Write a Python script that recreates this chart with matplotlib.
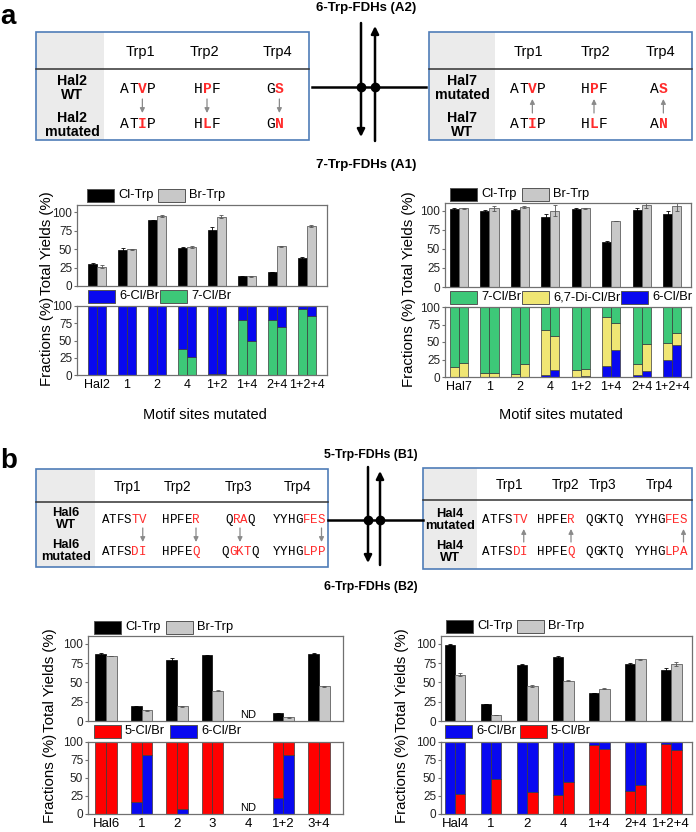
import numpy as np
import matplotlib
matplotlib.use('Agg')
import matplotlib.pyplot as plt
from matplotlib.patches import Rectangle

plt.rcParams['font.family'] = ['Liberation Sans', 'DejaVu Sans']

W, H = 696, 832

# ---- data: panel a, Hal2 (6-Trp) ----
a_left_groups = ['Hal2', '1', '2', '4', '1+2', '1+4', '2+4', '1+2+4']
hal2_cl = [30, 49, 89, 52, 76, 13, 19, 38]
hal2_cl_err = [1, 3, 1, 1, 4, 0.5, 0.5, 1]
hal2_br = [26, 50, 95, 53, 94, 13, 54, 81]
hal2_br_err = [2, 0.5, 1, 1.5, 2, 0.5, 0.5, 1.5]
hal2_7_cl = [0, 0, 0, 38, 1, 79, 80, 95]   # 7-Cl/Br fraction, rest 6-Cl/Br
hal2_7_br = [0, 0, 0, 26, 1, 50, 70, 86]

# ---- data: panel a, Hal7 (7-Trp) ----
a_right_groups = ['Hal7', '1', '2', '4', '1+2', '1+4', '2+4', '1+2+4']
hal7_cl = [102, 99, 101, 92, 102, 59, 101, 95]
hal7_cl_err = [1, 2, 1, 3, 1, 1.5, 3, 5]
hal7_br = [103, 103, 105, 100, 103, 86, 107, 106]
hal7_br_err = [1, 3, 1, 7, 1, 0, 3, 6]
hal7_6_cl = [0, 0, 0, 3, 0, 16, 3, 24]
hal7_di_cl = [15, 6, 5, 64, 10, 70, 16, 25]
hal7_6_br = [0, 0, 0, 10, 1, 39, 9, 46]
hal7_di_br = [20, 6, 18, 48, 11, 38, 38, 17]

# ---- data: panel b, Hal6 (5-Trp) ----
b_left_groups = ['Hal6', '1', '2', '3', '4', '1+2', '3+4']
hal6_cl = [87, 19, 79, 85, np.nan, 10, 87]
hal6_cl_err = [1, 0.5, 2, 0.5, 0, 0.5, 0.5]
hal6_br = [84, 14, 19, 39, np.nan, 5, 45]
hal6_br_err = [0.5, 0.5, 0.5, 0.5, 0, 0.5, 0.5]
hal6_6_cl = [0, 16, 0, 0, np.nan, 22, 0]   # 6-Cl/Br fraction, rest 5-Cl/Br
hal6_6_br = [0, 82, 7, 0, np.nan, 82, 0]

# ---- data: panel b, Hal4 (6-Trp) ----
b_right_groups = ['Hal4', '1', '2', '4', '1+4', '2+4', '1+2+4']
hal4_cl = [99, 22, 73, 83, 36, 74, 66]
hal4_cl_err = [0.5, 0.3, 1, 1, 0.3, 1, 2.5]
hal4_br = [60, 8, 45, 52, 42, 80, 74]
hal4_br_err = [1.5, 0.3, 1, 0.5, 1, 0.5, 3]
hal4_5_cl = [0, 0, 0, 27, 96, 32, 97]    # 5-Cl/Br fraction, rest 6-Cl/Br
hal4_5_br = [28, 49, 30, 45, 90, 40, 89]

BLACK = '#000000'
GRAY = '#C8C8C8'
BLUE = '#0808F0'
GREEN = '#3DC878'
YELLOW = '#F0E674'
RED = '#FF0000'
SEQRED = '#FF2A2A'
EDGE = '#3A3A3A'

fig = plt.figure(figsize=(W / 100, H / 100), dpi=100)
ov = fig.add_axes([0, 0, 1, 1])
ov.set_xlim(0, W)
ov.set_ylim(H, 0)
ov.axis('off')


def rect(l, t, r, b):
    return [l / W, 1 - b / H, (r - l) / W, (b - t) / H]


def seq(xc, y, s, reds, fs, bold_red):
    cw = 0.6 * fs * 100 / 72
    x0 = xc - len(s) * cw / 2
    for i, ch in enumerate(s):
        red = i in reds
        ov.text(x0 + (i + 0.5) * cw, y, ch, fontsize=fs, family='Liberation Mono',
                color=SEQRED if red else 'black',
                weight='bold' if (red and bold_red) else 'normal',
                ha='center', va='center')
    return [x0 + (i + 0.5) * cw for i in range(len(s))]


def small_arrow(x, y_from, y_to):
    ov.annotate('', xy=(x, y_to), xytext=(x, y_from),
                arrowprops=dict(arrowstyle='-|>', color='#8A8A8A', lw=0.9,
                                mutation_scale=7, shrinkA=0, shrinkB=0))


def table_box(x0, x1, y0, ydiv, y1, xgray):
    ov.add_patch(Rectangle((x0, y0), xgray - x0, y1 - y0, fc='#EBEBEB', ec='none'))
    ov.plot([x0, x1], [ydiv, ydiv], color='#333333', lw=1.1)
    ov.add_patch(Rectangle((x0, y0), x1 - x0, y1 - y0, fc='none', ec='#4F7DB8', lw=1.2))


def big_arrows(xa, xb, yh, xl, xr, a_top, a_tip, b_bot, b_tip):
    ov.plot([xl, xr], [yh, yh], color='black', lw=1.8)
    ov.annotate('', xy=(xa, a_tip), xytext=(xa, a_top),
                arrowprops=dict(arrowstyle='-|>', color='black', lw=1.8,
                                mutation_scale=11, shrinkA=0, shrinkB=0))
    ov.annotate('', xy=(xb, b_tip), xytext=(xb, b_bot),
                arrowprops=dict(arrowstyle='-|>', color='black', lw=1.8,
                                mutation_scale=11, shrinkA=0, shrinkB=0))
    ov.plot([xa, xb], [yh, yh], 'o', color='black', ms=6)


def legend_row(items, y):
    for x, c, lab in items:
        ov.add_patch(Rectangle((x, y - 6.5), 27, 13, fc=c, ec='#555555', lw=0.7))
        ov.text(x + 31, y, lab, fontsize=9.3, ha='left', va='center')


def style(ax, xlim, ymax):
    ax.set_xlim(xlim)
    ax.set_ylim(0, ymax)
    ax.set_yticks([0, 25, 50, 75, 100])
    for sp in ax.spines.values():
        sp.set_color('#707070')
        sp.set_linewidth(0.9)
    ax.tick_params(axis='y', length=2.5, width=0.8, color='#707070',
                   labelsize=8.5, pad=1, labelcolor='#222222')


def yields_ax(r, xlim, cl, cle, br, bre, w=0.3):
    ax = fig.add_axes(r)
    cl = np.array(cl, float)
    br = np.array(br, float)
    x = np.arange(len(cl))
    m = ~np.isnan(cl)
    ax.bar(x[m] - w / 2, cl[m], w, color=BLACK, edgecolor=BLACK, lw=0.5,
           yerr=np.array(cle)[m],
           error_kw=dict(ecolor='black', capsize=1.6, elinewidth=0.6, capthick=0.6))
    ax.bar(x[m] + w / 2, br[m], w, color=GRAY, edgecolor='#606060', lw=0.6,
           yerr=np.array(bre)[m],
           error_kw=dict(ecolor='#555555', capsize=1.6, elinewidth=0.6, capthick=0.6))
    style(ax, xlim, 110)
    ax.set_xticks([])
    return ax


def frac_ax(r, xlim, groups, stacks, w=0.3, xfs=9.5):
    # stacks: list of (values_cl, values_br, color) from bottom to top
    ax = fig.add_axes(r)
    x = np.arange(len(groups))
    bot_cl = np.zeros(len(groups))
    bot_br = np.zeros(len(groups))
    for vcl, vbr, c in stacks:
        vcl = np.array(vcl, float)
        vbr = np.array(vbr, float)
        m = ~np.isnan(vcl)
        ax.bar(x[m] - w / 2, vcl[m], w, bottom=bot_cl[m], color=c, edgecolor=EDGE, lw=0.5)
        ax.bar(x[m] + w / 2, vbr[m], w, bottom=bot_br[m], color=c, edgecolor=EDGE, lw=0.5)
        bot_cl = bot_cl + np.nan_to_num(vcl)
        bot_br = bot_br + np.nan_to_num(vbr)
    style(ax, xlim, 100)
    ax.set_xticks(x)
    ax.set_xticklabels(groups, fontsize=xfs)
    ax.tick_params(axis='x', length=0, pad=3)
    return ax


def ylabels(x, yc1, yc2):
    ov.text(x, yc1, 'Total Yields (%)', rotation=90, fontsize=10.8, ha='center', va='center')
    ov.text(x, yc2, 'Fractions (%)', rotation=90, fontsize=10.8, ha='center', va='center')


# ================= panel a =================
ov.text(0, 17, 'a', fontsize=20, weight='bold', ha='left', va='center')
ov.text(366, 8, '6-Trp-FDHs (A2)', fontsize=9.5, weight='bold', ha='center', va='center')
ov.text(366, 165, '7-Trp-FDHs (A1)', fontsize=9.5, weight='bold', ha='center', va='center')

table_box(36, 309, 32, 69, 140, 104)
for xh, lab in zip([140, 204, 277], ['Trp1', 'Trp2', 'Trp4']):
    ov.text(xh, 52, lab, fontsize=10.5, ha='center', va='center')
ov.text(72, 88, 'Hal2\nWT', fontsize=10.2, weight='bold', ha='center', va='center', linespacing=0.95)
ov.text(72, 125, 'Hal2\nmutated', fontsize=10.2, weight='bold', ha='center', va='center', linespacing=0.95)
for xc, s1, s2, r in [(138, 'ATVP', 'ATIP', 2), (207, 'HPF', 'HLF', 1), (275, 'GS', 'GN', 1)]:
    p = seq(xc, 89, s1, {r}, 10.5, True)
    seq(xc, 124, s2, {r}, 10.5, True)
    small_arrow(p[r], 99, 113)

table_box(429, 692, 32, 69, 140, 495)
for xh, lab in zip([528, 595, 660], ['Trp1', 'Trp2', 'Trp4']):
    ov.text(xh, 52, lab, fontsize=10.5, ha='center', va='center')
ov.text(462, 88, 'Hal7\nmutated', fontsize=10.2, weight='bold', ha='center', va='center', linespacing=0.95)
ov.text(462, 125, 'Hal7\nWT', fontsize=10.2, weight='bold', ha='center', va='center', linespacing=0.95)
for xc, s1, s2, r in [(528, 'ATVP', 'ATIP', 2), (594, 'HPF', 'HLF', 1), (659, 'AS', 'AN', 1)]:
    p = seq(xc, 89, s1, {r}, 10.5, True)
    seq(xc, 124, s2, {r}, 10.5, True)
    small_arrow(p[r], 113, 99)

big_arrows(361, 375, 87, 312, 426, 23, 137, 141, 26)

# charts a-left
yields_ax(rect(77, 205, 327, 286), (-0.667, 7.667), hal2_cl, hal2_cl_err, hal2_br, hal2_br_err)
frac_ax(rect(77, 306, 327, 375), (-0.667, 7.667), a_left_groups,
        [(hal2_7_cl, hal2_7_br, GREEN),
         (list(100 - np.array(hal2_7_cl)), list(100 - np.array(hal2_7_br)), BLUE)], xfs=9)
legend_row([(87, BLACK, 'Cl-Trp'), (158, GRAY, 'Br-Trp')], 195)
legend_row([(88, BLUE, '6-Cl/Br'), (160, GREEN, '7-Cl/Br')], 296)
ylabels(47, 243, 341)
ov.text(205, 415, 'Motif sites mutated', fontsize=10.5, ha='center', va='center')

# charts a-right
yields_ax(rect(445, 203, 691, 287), (-0.46, 7.62), hal7_cl, hal7_cl_err, hal7_br, hal7_br_err)
g_cl = 100 - np.array(hal7_6_cl) - np.array(hal7_di_cl)
g_br = 100 - np.array(hal7_6_br) - np.array(hal7_di_br)
frac_ax(rect(445, 307, 691, 377), (-0.46, 7.62), a_right_groups,
        [(hal7_6_cl, hal7_6_br, BLUE), (hal7_di_cl, hal7_di_br, YELLOW), (g_cl, g_br, GREEN)], xfs=9)
legend_row([(450, BLACK, 'Cl-Trp'), (522, GRAY, 'Br-Trp')], 194)
legend_row([(450, GREEN, '7-Cl/Br'), (522, YELLOW, '6,7-Di-Cl/Br'), (621, BLUE, '6-Cl/Br')], 297)
ylabels(409, 243, 342)
ov.text(561, 415, 'Motif sites mutated', fontsize=10.5, ha='center', va='center')

# ================= panel b =================
ov.text(0, 461, 'b', fontsize=20, weight='bold', ha='left', va='center')
ov.text(371, 455, '5-Trp-FDHs (B1)', fontsize=8.8, weight='bold', ha='center', va='center')
ov.text(371, 587, '6-Trp-FDHs (B2)', fontsize=8.8, weight='bold', ha='center', va='center')

table_box(36, 328, 469, 502, 567, 95)
for xh, lab in zip([127, 177, 239, 298], ['Trp1', 'Trp2', 'Trp3', 'Trp4']):
    ov.text(xh, 487, lab, fontsize=9.8, ha='center', va='center')
ov.text(66, 519, 'Hal6\nWT', fontsize=9.3, weight='bold', ha='center', va='center', linespacing=0.95)
ov.text(66, 551, 'Hal6\nmutated', fontsize=9.3, weight='bold', ha='center', va='center', linespacing=0.95)
b_left_seq = [(124, 'ATFSTV', {4, 5}, 'ATFSDI', {4, 5}, 5),
              (181, 'HPFER', {4}, 'HPFEQ', {4}, 4),
              (240, 'QRAQ', {1, 2}, 'QGKTQ', {1, 2, 3}, None),
              (299, 'YYHGFES', {4, 5, 6}, 'YYHGLPP', {4, 5, 6}, 6)]
for xc, s1, r1, s2, r2, ai in b_left_seq:
    p = seq(xc, 520, s1, r1, 9, False)
    seq(xc, 552, s2, r2, 9, False)
    small_arrow(p[ai] if ai is not None else xc, 528, 542)

table_box(423, 692, 468, 500, 569, 477)
for xh, lab in zip([510, 566, 603, 660], ['Trp1', 'Trp2', 'Trp3', 'Trp4']):
    ov.text(xh, 485, lab, fontsize=9.8, ha='center', va='center')
ov.text(450, 520, 'Hal4\nmutated', fontsize=9.3, weight='bold', ha='center', va='center', linespacing=0.95)
ov.text(450, 552, 'Hal4\nWT', fontsize=9.3, weight='bold', ha='center', va='center', linespacing=0.95)
b_right_seq = [(505, 'ATFSTV', {4, 5}, 'ATFSDI', {4, 5}, 5),
               (556, 'HPFER', {4}, 'HPFEQ', {4}, 4),
               (604, 'QGKTQ', set(), 'QGKTQ', set(), None),
               (661, 'YYHGFES', {4, 5, 6}, 'YYHGLPA', {4, 5, 6}, 6)]
for xc, s1, r1, s2, r2, ai in b_right_seq:
    p = seq(xc, 520, s1, r1, 9, False)
    seq(xc, 552, s2, r2, 9, False)
    if ai is not None:
        small_arrow(p[ai], 542, 529)

big_arrows(368, 380, 520, 328, 423, 467, 563, 565, 471)

# charts b-left
ax = yields_ax(rect(88, 636, 343, 721), (-0.51, 6.68), hal6_cl, hal6_cl_err, hal6_br, hal6_br_err)
ax.text(4, 8, 'ND', fontsize=8, ha='center', va='center')
r_cl = 100 - np.array(hal6_6_cl)
r_br = 100 - np.array(hal6_6_br)
ax = frac_ax(rect(88, 742, 343, 814), (-0.51, 6.68), b_left_groups,
             [(hal6_6_cl, hal6_6_br, BLUE), (r_cl, r_br, RED)])
ax.text(4, 8, 'ND', fontsize=8, ha='center', va='center')
legend_row([(94, BLACK, 'Cl-Trp'), (166, GRAY, 'Br-Trp')], 627)
legend_row([(94, RED, '5-Cl/Br'), (170, BLUE, '6-Cl/Br')], 731)
ylabels(50, 680, 778)

# charts b-right
yields_ax(rect(441, 636, 692, 721), (-0.39, 6.58), hal4_cl, hal4_cl_err, hal4_br, hal4_br_err, w=0.29)
frac_ax(rect(441, 742, 692, 814), (-0.39, 6.58), b_right_groups,
        [(hal4_5_cl, hal4_5_br, RED),
         (list(100 - np.array(hal4_5_cl)), list(100 - np.array(hal4_5_br)), BLUE)], w=0.29)
legend_row([(446, BLACK, 'Cl-Trp'), (517, GRAY, 'Br-Trp')], 626)
legend_row([(445, BLUE, '6-Cl/Br'), (520, RED, '5-Cl/Br')], 731)
ylabels(402, 680, 778)

fig.savefig('out.png', dpi=100)
